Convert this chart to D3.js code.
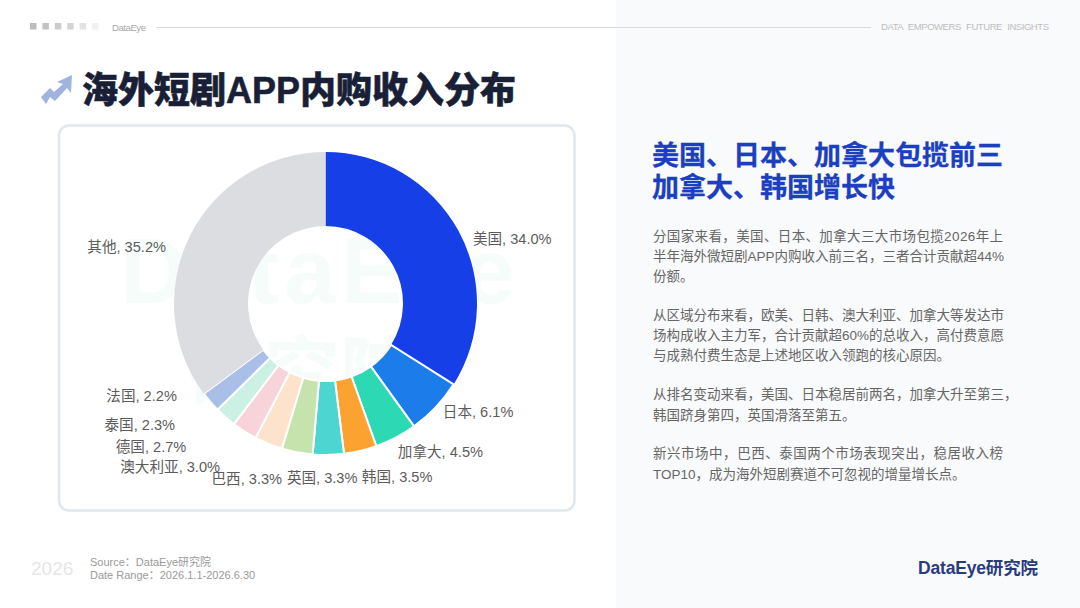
<!DOCTYPE html>
<html>
<head>
<meta charset="utf-8">
<script src="https://cdn.jsdelivr.net/npm/d3@7"></script>
<style>
  html, body { margin: 0; padding: 0; background: #fff; }
  svg { display: block; }
  text { font-family: "Liberation Sans", "Noto Sans CJK SC", sans-serif; }
</style>
</head>
<body>
<svg id="chart" width="1080" height="608"></svg>
<script>
// chart data
var countries = ['美国', '日本', '加拿大', '韩国', '英国', '巴西', '澳大利亚', '德国', '泰国', '法国', '其他'];
var shares = [34.0, 6.1, 4.5, 3.5, 3.3, 3.3, 3.0, 2.7, 2.3, 2.2, 35.2];
var sliceColors = ['#173fe8', '#1b7cea', '#2cd9b4', '#fba231', '#4dd5d2', '#c6e3ae', '#fde3cb', '#f8d3da', '#cdf0e5', '#a9bfe8', '#dbdde0'];

// text blocks (\uFF0C is the full width comma, \uFF1A the full width colon)
var titleText = '海外短剧APP内购收入分布';
var headLines = ['美国、日本、加拿大包揽前三', '加拿大、韩国增长快'];
var bodyLines = [
  '分国家来看\uFF0C美国、日本、加拿大三大市场包揽2026年上',
  '半年海外微短剧APP内购收入前三名\uFF0C三者合计贡献超44%',
  '份额。',
  '从区域分布来看\uFF0C欧美、日韩、澳大利亚、加拿大等发达市',
  '场构成收入主力军\uFF0C合计贡献超60%的总收入\uFF0C高付费意愿',
  '与成熟付费生态是上述地区收入领跑的核心原因。',
  '从排名变动来看\uFF0C美国、日本稳居前两名\uFF0C加拿大升至第三\uFF0C',
  '韩国跻身第四\uFF0C英国滑落至第五。',
  '新兴市场中\uFF0C巴西、泰国两个市场表现突出\uFF0C稳居收入榜',
  'TOP10\uFF0C成为海外短剧赛道不可忽视的增量增长点。'
];
var bodyY = [236, 256, 276, 315, 335, 355, 394, 415, 453, 474];
var bodyWidths = [350, 351, 0, 351, 351, 0, 0, 0, 350, 0]; // 0 = natural width

var svg = d3.select('#chart');

// page background
svg.append('rect').attr('width', 1080).attr('height', 608).attr('fill', '#fff');
svg.append('rect').attr('x', 616).attr('width', 464).attr('height', 608).attr('fill', '#f9fafb');

// header strip
svg.selectAll('.dot')
  .data([0.95, 0.85, 0.75, 0.6, 0.4, 0.2])
  .enter()
  .append('rect')
  .attr('x', function (d, i) { return 30 + i * 12.4; })
  .attr('y', 23)
  .attr('width', 6.5)
  .attr('height', 6.5)
  .attr('fill', '#b9b9b9')
  .attr('opacity', function (d) { return d; });
svg.append('text').attr('x', 112).attr('y', 30.5).attr('font-size', 9.5).attr('fill', '#a8a8a8')
  .attr('textLength', 34).text('DataEye');
svg.append('line').attr('x1', 156).attr('x2', 871).attr('y1', 27.5).attr('y2', 27.5).attr('stroke', '#d9d9d9').attr('stroke-width', 1.2);
svg.append('text').attr('x', 881).attr('y', 30).attr('font-size', 9.5).attr('fill', '#bdbdbd')
  .attr('word-spacing', 3).attr('textLength', 168).text('DATA EMPOWERS FUTURE INSIGHTS');

// title + arrow
svg.append('path')
  .attr('d', 'M41 97 L50 88 L54 92 L63 84 L57 82 L72 75 L71 93 L67 88 L55 101 L50 97 L46 104 Z')
  .attr('fill', '#9fb3de');
svg.append('text').attr('x', 82).attr('y', 103).attr('font-size', 36).attr('font-weight', 900)
  .attr('fill', '#181f36').attr('stroke', '#181f36').attr('stroke-width', 0.5).text(titleText);

// card
svg.append('rect').attr('x', 59).attr('y', 125.5).attr('width', 515.5).attr('height', 385)
  .attr('rx', 10).attr('fill', '#fff').attr('stroke', '#dfe8ee').attr('stroke-width', 2.5);

// faint watermark, the donut covers it
svg.append('text').attr('x', 120).attr('y', 303).attr('font-size', 92).attr('font-weight', 700)
  .attr('fill', '#d8f2e6').attr('opacity', 0.22).attr('textLength', 395).text('DataEye');
svg.append('text').attr('x', 188).attr('y', 400).attr('font-size', 76).attr('font-weight', 700)
  .attr('fill', '#d8f2e6').attr('opacity', 0.22).text('研究院');

// donut
var cx = 325.5, cy = 303.5, outerR = 151.5, innerR = 77.5;
var rows = countries.map(function (c, i) { return { name: c, share: shares[i] }; });
var pie = d3.pie().sort(null).value(function (d) { return d.share; });
var arc = d3.arc().innerRadius(innerR).outerRadius(outerR);
var labelArc = d3.arc().innerRadius(outerR + 2).outerRadius(outerR + 2);
var color = d3.scaleOrdinal().domain(countries).range(sliceColors);

var donut = svg.append('g').attr('transform', 'translate(' + cx + ',' + cy + ')');
donut.selectAll('path')
  .data(pie(rows))
  .enter()
  .append('path')
  .attr('d', arc)
  .attr('fill', function (d) { return color(d.data.name); })
  .attr('stroke', '#fff')
  .attr('stroke-width', function (d) { return d.data.name == '美国' || d.data.name == '其他' ? 0 : 2; });

// label nudges away from the arc, the labels get pushed around to avoid each other
var nudges = {
  '美国': [13, 9], '日本': [5.5, 3.5], '加拿大': [1, 12.5], '韩国': [1, 24], '英国': [-41.5, 21], '巴西': [-14.7, 24.7],
  '澳大利亚': [-47.7, 21.3], '德国': [-57, 14], '泰国': [-49, 6], '法国': [-32, -7], '其他': [-22.4, 12.5]
};
donut.selectAll('text')
  .data(pie(rows))
  .enter()
  .append('text')
  .attr('x', function (d) { return labelArc.centroid(d)[0] + nudges[d.data.name][0]; })
  .attr('y', function (d) { return labelArc.centroid(d)[1] + nudges[d.data.name][1]; })
  .attr('text-anchor', function (d) { return labelArc.centroid(d)[0] > 0 ? 'start' : 'end'; })
  .attr('dy', '0.35em')
  .attr('font-size', 14.6)
  .attr('fill', '#5c5c5c')
  .text(function (d) { return d.data.name + ', ' + d3.format('.1f')(d.data.share) + '%'; });

// right column
svg.selectAll('.head')
  .data(headLines)
  .enter()
  .append('text')
  .attr('x', 652)
  .attr('y', function (d, i) { return 165 + i * 32; })
  .attr('font-size', 27)
  .attr('font-weight', 700)
  .attr('fill', '#1c3fc0')
  .attr('stroke', '#1c3fc0')
  .attr('stroke-width', 0.3)
  .text(function (d) { return d; });
svg.selectAll('.body')
  .data(bodyLines)
  .enter()
  .append('text')
  .attr('x', 653)
  .attr('y', function (d, i) { return bodyY[i] + 5; })
  .attr('font-size', 13.5)
  .attr('fill', '#666')
  .attr('textLength', function (d, i) { return bodyWidths[i] || null; })
  .text(function (d) { return d; });

// footer
svg.append('text').attr('x', 31).attr('y', 575).attr('font-size', 19).attr('fill', '#e6e6e6').text('2026');
svg.append('text').attr('x', 90).attr('y', 566).attr('font-size', 11).attr('fill', '#9a9a9a').text('Source\uFF1ADataEye研究院');
svg.append('text').attr('x', 90).attr('y', 579).attr('font-size', 11).attr('fill', '#9a9a9a').text('Date Range\uFF1A2026.1.1-2026.6.30');
svg.append('text').attr('x', 918).attr('y', 574).attr('font-size', 17.5).attr('font-weight', 700)
  .attr('fill', '#2a3a7c').attr('textLength', 120).text('DataEye研究院');
</script>
</body>
</html>
